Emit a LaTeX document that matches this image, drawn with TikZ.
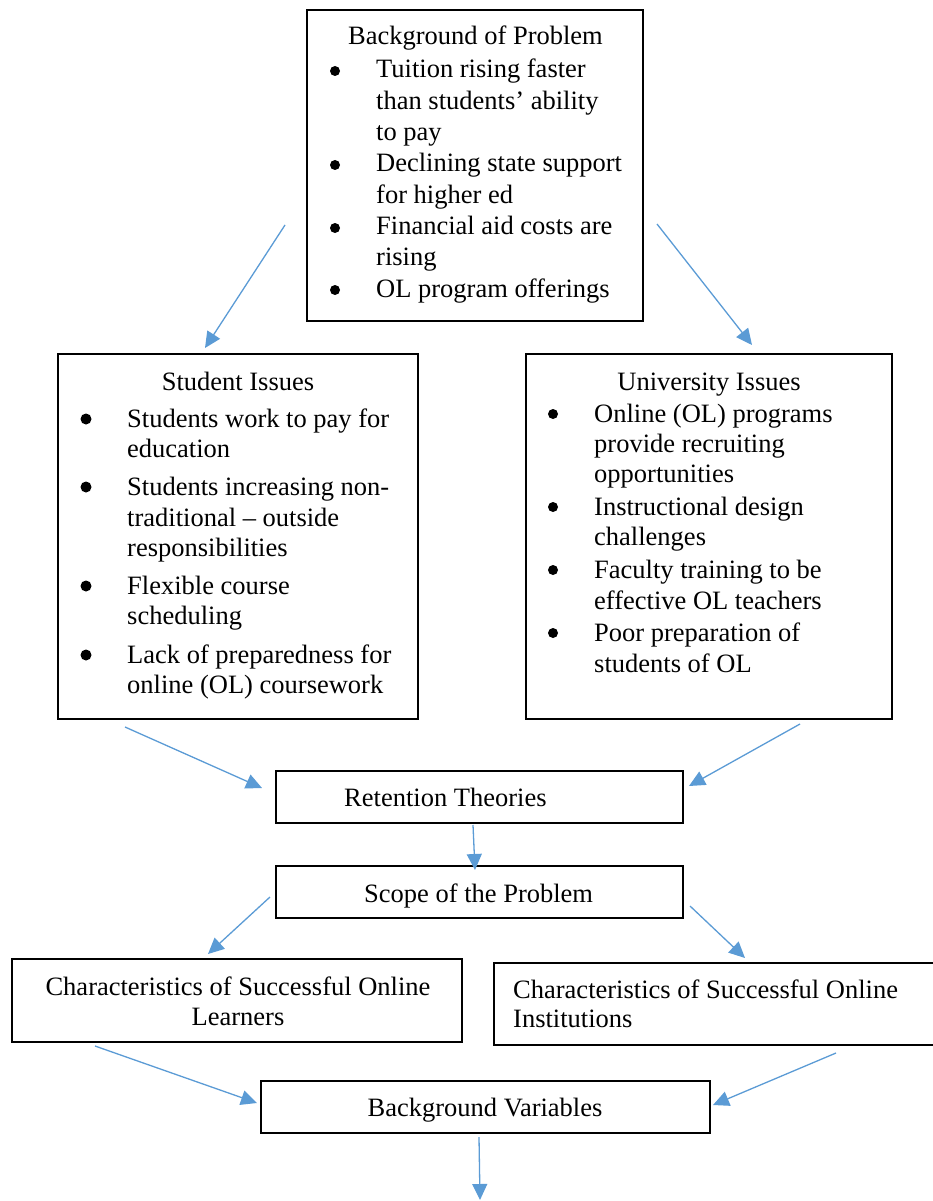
\documentclass[tikz,border=0pt]{standalone}
\usepackage{fontspec}
\setmainfont{Liberation Serif}
\usetikzlibrary{arrows.meta}
\definecolor{arrblue}{HTML}{5B9BD5}
\tikzset{
  box/.style={draw=black, line width=1.8pt, inner sep=0pt},
  txt/.style={inner sep=0pt, anchor=base west, font=\fontsize{26.5}{31.3}\selectfont},
  ctxt/.style={txt, anchor=base},
  bdot/.style={circle, fill=black, inner sep=0pt, minimum size=10pt},
  arr/.style={draw=arrblue, line width=1.3pt, -{Triangle[length=16pt,width=15pt]}},
}
\begin{document}
\begin{tikzpicture}[x=1pt,y=-1pt]
\useasboundingbox (0,0) rectangle (933,1201);

% ---------- boxes ----------
\node[box, minimum width=336pt, minimum height=311pt] (bg)  at (475,165.5) {};
\node[box, minimum width=360pt, minimum height=365pt] (stu) at (238,536.5) {};
\node[box, minimum width=366pt, minimum height=365pt] (uni) at (709,536.5) {};
\node[box, minimum width=407pt, minimum height=52pt]  (ret) at (479.5,797) {};
\node[box, minimum width=407pt, minimum height=52pt]  (sco) at (479.5,892) {};
\node[box, minimum width=450pt, minimum height=83pt]  (lea) at (237,1000.5) {};
\node[box, minimum width=451pt, minimum height=82pt]  (ins) at (719.5,1004) {};
\node[box, minimum width=449pt, minimum height=52pt]  (bv)  at (485.5,1107) {};

% ---------- Background of Problem ----------
\node[ctxt] (bgt) at (475.5,45) {Background of Problem};
\node[bdot] (bgd1) at (335,71) {};
\node[txt] (bg1a) at (376,78)    {Tuition rising faster};
\node[txt] (bg1b) at (376,109.3) {than students’ ability};
\node[txt] (bg1c) at (376,140.6) {to pay};
\node[bdot] (bgd2) at (335,165) {};
\node[txt] (bg2a) at (376,171.9) {Declining state support};
\node[txt] (bg2b) at (376,203.2) {for higher ed};
\node[bdot] (bgd3) at (335,228) {};
\node[txt] (bg3a) at (376,234.5) {Financial aid costs are};
\node[txt] (bg3b) at (376,265.8) {rising};
\node[bdot] (bgd4) at (335,290) {};
\node[txt] (bg4a) at (376,297.1) {OL program offerings};

% ---------- Student Issues ----------
\node[ctxt] (stut) at (238,390) {Student Issues};
\node[bdot, minimum size=11pt] (sd1) at (86,419) {};
\node[txt] (s1a) at (127,427) {Students work to pay for};
\node[txt] (s1b) at (127,457) {education};
\node[bdot, minimum size=11pt] (sd2) at (86,487) {};
\node[txt] (s2a) at (127,495) {Students increasing non-};
\node[txt] (s2b) at (127,526) {traditional – outside};
\node[txt] (s2c) at (127,556) {responsibilities};
\node[bdot, minimum size=11pt] (sd3) at (86,586) {};
\node[txt] (s3a) at (127,594) {Flexible course};
\node[txt] (s3b) at (127,624) {scheduling};
\node[bdot, minimum size=11pt] (sd4) at (86,655) {};
\node[txt] (s4a) at (127,663) {Lack of preparedness for};
\node[txt] (s4b) at (127,693) {online (OL) coursework};

% ---------- University Issues ----------
\node[ctxt] (unit) at (709,390) {University Issues};
\node[bdot] (ud1) at (553,414) {};
\node[txt] (u1a) at (594,422) {Online (OL) programs};
\node[txt] (u1b) at (594,452) {provide recruiting};
\node[txt] (u1c) at (594,482) {opportunities};
\node[bdot] (ud2) at (553,507) {};
\node[txt] (u2a) at (594,515) {Instructional design};
\node[txt] (u2b) at (594,545) {challenges};
\node[bdot] (ud3) at (553,570) {};
\node[txt] (u3a) at (594,578) {Faculty training to be};
\node[txt] (u3b) at (594,609) {effective OL teachers};
\node[bdot] (ud4) at (553,633) {};
\node[txt] (u4a) at (594,641) {Poor preparation of};
\node[txt] (u4b) at (594,672) {students of OL};

% ---------- small boxes text ----------
\node[txt]  (rett) at (344,806) {Retention Theories};
\node[txt]  (scot) at (364,902) {Scope of the Problem};
\node[ctxt] (lea1) at (238,995)  {Characteristics of Successful Online};
\node[ctxt] (lea2) at (238,1025) {Learners};
\node[txt]  (ins1) at (513,998)  {Characteristics of Successful Online};
\node[txt]  (ins2) at (513,1027) {Institutions};
\node[ctxt] (bvt)  at (485,1116) {Background Variables};

% ---------- connector end points ----------
\coordinate (a1s) at (285,225);  \coordinate (a1e) at (205,348);
\coordinate (a2s) at (657,224);  \coordinate (a2e) at (752,345);
\coordinate (a3s) at (125,727);  \coordinate (a3e) at (262,788);
\coordinate (a4s) at (800,724);  \coordinate (a4e) at (689,786);
\coordinate (a5s) at (473,825);  \coordinate (a5e) at (475,870);
\coordinate (a6s) at (270,897);  \coordinate (a6e) at (208,954);
\coordinate (a7s) at (690,906);  \coordinate (a7e) at (745,958);
\coordinate (a8s) at (95,1046);  \coordinate (a8e) at (257,1103);
\coordinate (a9s) at (836,1053); \coordinate (a9e) at (713,1105);
\coordinate (a10s) at (479,1137); \coordinate (a10e) at (480,1200);

\draw[arr] (a1s) -- (a1e);
\draw[arr] (a2s) -- (a2e);
\draw[arr] (a3s) -- (a3e);
\draw[arr] (a4s) -- (a4e);
\draw[arr] (a5s) -- (a5e);
\draw[arr] (a6s) -- (a6e);
\draw[arr] (a7s) -- (a7e);
\draw[arr] (a8s) -- (a8e);
\draw[arr] (a9s) -- (a9e);
\draw[arr] (a10s) -- (a10e);
\end{tikzpicture}
\end{document}
